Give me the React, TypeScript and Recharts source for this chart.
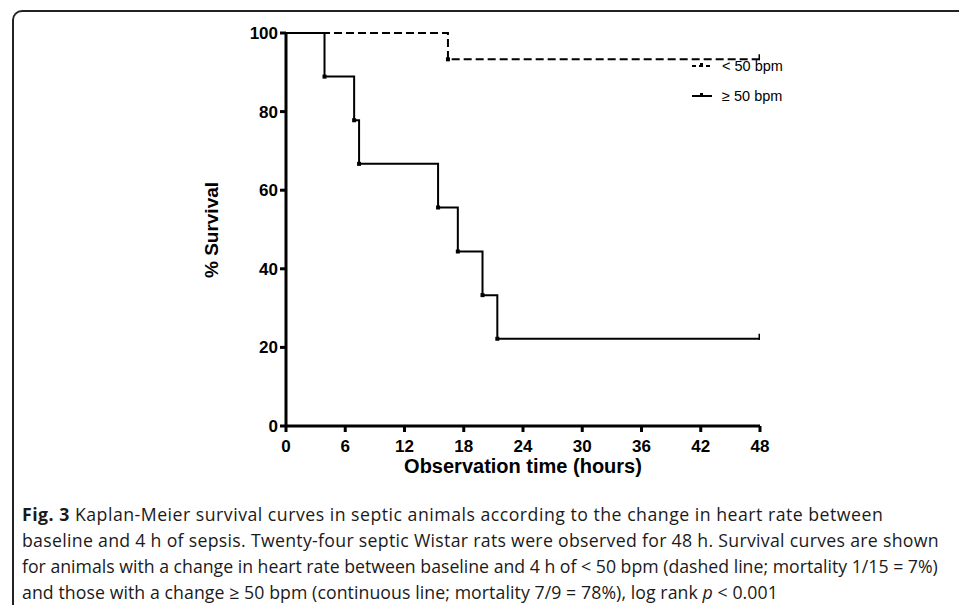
import { LineChart, Line, XAxis, YAxis } from 'recharts';

const lowTimes = [0, 16.4, 48];
const lowSurvival = [100, 93.3, 93.3];

const highTimes = [0, 3.9, 6.9, 7.4, 15.4, 17.4, 19.9, 21.4, 48];
const highSurvival = [100, 88.9, 77.8, 66.7, 55.6, 44.4, 33.3, 22.2, 22.2];

const xTicks = [0, 6, 12, 18, 24, 30, 36, 42, 48];
const yTicks = [0, 20, 40, 60, 80, 100];

const seriesLabels = ['< 50 bpm', '\u2265 50 bpm'];

const lowData = lowTimes.map((t, i) => ({ t, s: lowSurvival[i] }));
const highData = highTimes.map((t, i) => ({ t, s: highSurvival[i] }));

const ARIAL = '"Liberation Sans", Arial, sans-serif';

const stepDot = (lastIndex: number) => (props: any) => {
    const { cx, cy, index } = props;
    if (index === 0) return <g key={`d${index}`} />;
    if (index === lastIndex) {
        return <line key={`d${index}`} x1={cx} y1={cy + 1} x2={cx} y2={cy - 5} stroke="#000" strokeWidth={3} />;
    }
    return <rect key={`d${index}`} x={cx - 2} y={cy - 2} width={4} height={4} fill="#000" />;
};

const LegendBox = () => (
    <div
        style={{
            position: 'absolute',
            left: 690,
            top: 51,
            fontFamily: ARIAL,
            fontSize: 14.5,
            color: '#000',
        }}
    >
        {seriesLabels.map((label, i) => (
            <div key={label} style={{ display: 'flex', alignItems: 'center', height: 30 }}>
                <svg width={24} height={12} style={{ marginRight: 8 }}>
                    <line
                        x1={2}
                        y1={6}
                        x2={22}
                        y2={6}
                        stroke="#000"
                        strokeWidth={2}
                        strokeDasharray={i === 0 ? '4 3' : undefined}
                    />
                    <rect x={10} y={3} width={3} height={4} fill="#000" />
                </svg>
                <span>{label}</span>
            </div>
        ))}
    </div>
);

export default function App() {
    return (
        <div
            style={{
                position: 'absolute',
                left: 0,
                top: 0,
                width: 959,
                height: 605,
                overflow: 'hidden',
                background: '#fff',
            }}
        >
            {/* figure frame */}
            <div
                style={{
                    position: 'absolute',
                    left: 12,
                    top: 10,
                    width: 980,
                    height: 620,
                    borderTop: '2px solid #222',
                    borderLeft: '2px solid #222',
                    borderTopLeftRadius: 10,
                }}
            />

            <div style={{ position: 'absolute', left: 0, top: 0 }}>
                <LineChart width={959} height={490} margin={{ top: 33, right: 199, left: 226, bottom: 34 }}>
                    <XAxis
                        dataKey="t"
                        type="number"
                        domain={[0, 48]}
                        ticks={xTicks}
                        allowDataOverflow
                        height={30}
                        tickSize={6}
                        tickMargin={8}
                        axisLine={{ stroke: '#000', strokeWidth: 3 }}
                        tickLine={{ stroke: '#000', strokeWidth: 3 }}
                        tick={{ fill: '#000', fontSize: 17, fontWeight: 700, fontFamily: ARIAL }}
                    />
                    <YAxis
                        type="number"
                        domain={[0, 100]}
                        ticks={yTicks}
                        width={60}
                        tickSize={6}
                        tickMargin={2}
                        axisLine={{ stroke: '#000', strokeWidth: 3 }}
                        tickLine={{ stroke: '#000', strokeWidth: 3 }}
                        tick={{ fill: '#000', fontSize: 17, fontWeight: 700, fontFamily: ARIAL }}
                    />
                    <Line
                        data={lowData}
                        dataKey="s"
                        name={seriesLabels[0]}
                        type="stepAfter"
                        stroke="#000"
                        strokeWidth={2}
                        strokeDasharray="8 4"
                        dot={stepDot(lowData.length - 1)}
                        activeDot={false}
                        isAnimationActive={false}
                    />
                    <Line
                        data={highData}
                        dataKey="s"
                        name={seriesLabels[1]}
                        type="stepAfter"
                        stroke="#000"
                        strokeWidth={2}
                        dot={stepDot(highData.length - 1)}
                        activeDot={false}
                        isAnimationActive={false}
                    />
                </LineChart>
            </div>

            <LegendBox />

            {/* axis titles */}
            <div
                style={{
                    position: 'absolute',
                    left: 200,
                    top: 218,
                    width: 24,
                    height: 24,
                    fontFamily: ARIAL,
                    fontWeight: 700,
                    fontSize: 19,
                    whiteSpace: 'nowrap',
                    display: 'flex',
                    alignItems: 'center',
                    justifyContent: 'center',
                    transform: 'rotate(-90deg)',
                }}
            >
                % Survival
            </div>
            <div
                style={{
                    position: 'absolute',
                    left: 286,
                    width: 474,
                    top: 455,
                    textAlign: 'center',
                    fontFamily: ARIAL,
                    fontWeight: 700,
                    fontSize: 20,
                }}
            >
                Observation time (hours)
            </div>

            {/* caption */}
            <div
                style={{
                    position: 'absolute',
                    left: 22,
                    top: 501,
                    width: 940,
                    whiteSpace: 'nowrap',
                    fontFamily: '"Open Sans", sans-serif',
                    fontSize: 17.7,
                    lineHeight: '26px',
                    color: '#1a1a1a',
                }}
            >
                <div style={{ letterSpacing: 0.5 }}>
                    <b>Fig. 3</b> Kaplan-Meier survival curves in septic animals according to the change in heart rate between
                </div>
                <div style={{ letterSpacing: 0.3 }}>
                    baseline and 4 h of sepsis. Twenty-four septic Wistar rats were observed for 48 h. Survival curves are shown
                </div>
                <div>
                    for animals with a change in heart rate between baseline and 4 h of &lt; 50 bpm (dashed line; mortality 1/15 = 7%)
                </div>
                <div style={{ letterSpacing: 0.08 }}>
                    and those with a change &ge; 50 bpm (continuous line; mortality 7/9 = 78%), log rank <i>p</i> &lt; 0.001
                </div>
            </div>
        </div>
    );
}
